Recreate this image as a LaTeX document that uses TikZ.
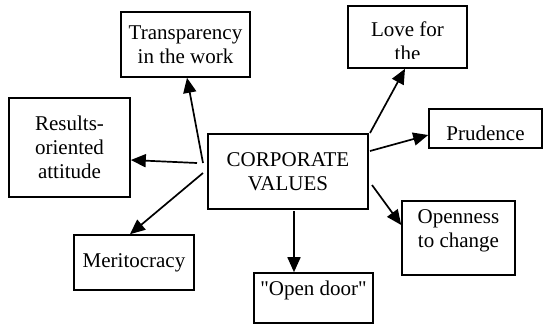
\documentclass[tikz,border=0pt]{standalone}
\usepackage{fontspec}
\setmainfont{Liberation Serif}[Ligatures=TeXOff]
\usetikzlibrary{arrows.meta}
\definecolor{ink}{HTML}{000000}

\begin{document}
\begin{tikzpicture}[x=1pt, y=-1pt,
    every node/.style={font=\fontsize{21}{24}\selectfont},
    vbox/.style={draw=ink, line width=1.6pt, rectangle, align=center, inner sep=0pt},
    vtext/.style={align=center, inner sep=0pt},
    link/.style={line width=1.7pt, color=ink, -{Triangle[length=15pt, width=13pt]}}]
    \useasboundingbox (0,0) rectangle (544,325);
    % boxes
    \node[vbox, minimum width=129pt, minimum height=65pt] (trans) at (185.5, 44.5) {Transparency\\in the work};
    \node[vbox, minimum width=119pt, minimum height=62pt] (love) at (407.5, 37) {};
    \node[vbox, minimum width=121pt, minimum height=99pt] (res) at (69.5, 147.5) {Results-\\oriented\\attitude};
    \node[vbox, minimum width=160pt, minimum height=75pt] (core) at (288, 171.5) {CORPORATE\\VALUES};
    \node[vbox, minimum width=113pt, minimum height=39pt] (prud) at (485.5, 128.5) {};
    \node[vbox, minimum width=120pt, minimum height=55pt] (merit) at (134, 262.5) {Meritocracy};
    \node[vbox, minimum width=119pt, minimum height=50pt] (door) at (313.5, 298) {};
    \node[vbox, minimum width=113pt, minimum height=74pt] (open) at (458.5, 238) {};
    % texts set high in their boxes
    \begin{scope}
      \clip (love.north west) rectangle (467, 58);
      \node[vtext, anchor=north] (lovetxt) at (407.5, 22) {Love for\\the};
    \end{scope}
    \node[vtext, anchor=north] (prudtxt) at (485.5, 126) {Prudence};
    \node[vtext, anchor=north] (doortxt) at (313.5, 280.5) {"Open door"};
    \node[vtext, anchor=north] (opentxt) at (458.5, 209) {Openness\\to change};
    % arrow tails
    \coordinate (s1) at (203, 163);
    \coordinate (s2) at (197, 163);
    \coordinate (s3) at (203, 173);
    \coordinate (s4) at (370, 133);
    \coordinate (s5) at (370, 151);
    \coordinate (s6) at (372, 185);
    \coordinate (s7) at (294, 211);
    % arrows
    \draw[link] (s1) -- ([xshift=1.5pt]trans.south);
    \draw[link] (s2) -- ([yshift=-12.5pt]res.east);
    \draw[link] (s3) -- ([xshift=-4pt]merit.north);
    \draw[link] (s4) -- ([xshift=-2.5pt]love.south);
    \draw[link] (s5) -- ([yshift=-6.5pt]prud.west);
    \draw[link] (s6) -- ([yshift=13pt]open.west);
    \draw[link] (s7) -- ([xshift=-19.5pt]door.north);
  \end{tikzpicture}
\end{document}
